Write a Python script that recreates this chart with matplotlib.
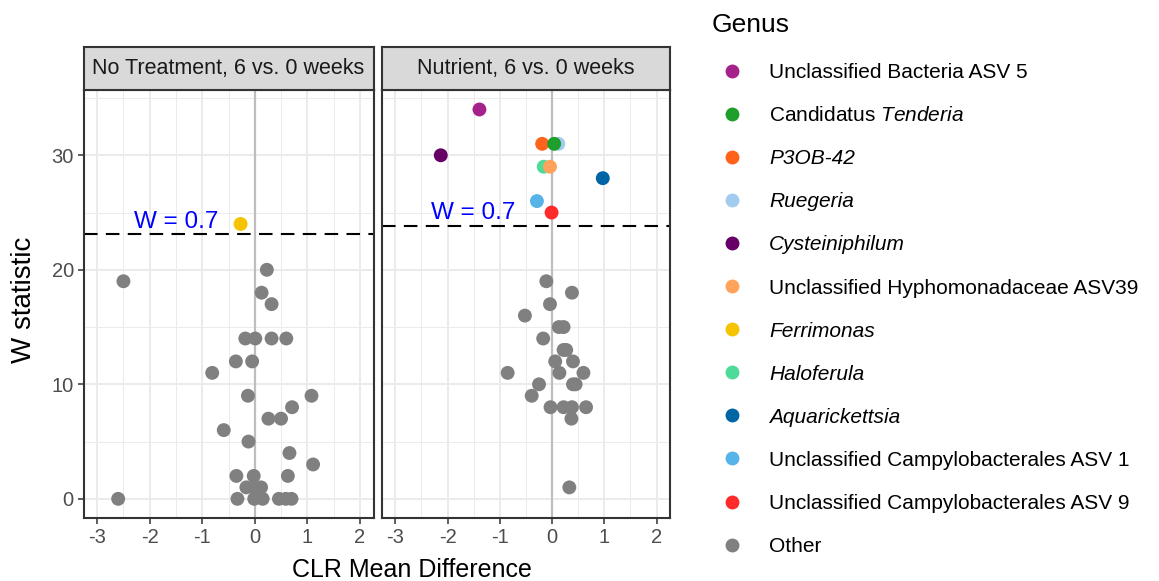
import numpy as np
import matplotlib
matplotlib.use('Agg')
import matplotlib.pyplot as plt
from matplotlib.lines import Line2D
from matplotlib.ticker import MultipleLocator

plt.rcParams['font.family'] = ['Liberation Sans', 'DejaVu Sans']
plt.rcParams['mathtext.fontset'] = 'custom'
plt.rcParams['mathtext.rm'] = 'Liberation Sans'
plt.rcParams['mathtext.it'] = 'Liberation Sans:italic'
plt.rcParams['axes.unicode_minus'] = False

# legend order / colours
genus_names = [
    "Unclassified Bacteria ASV 5", "Candidatus Tenderia", "P3OB-42", "Ruegeria",
    "Cysteiniphilum", "Unclassified Hyphomonadaceae ASV39", "Ferrimonas",
    "Haloferula", "Aquarickettsia", "Unclassified Campylobacterales ASV 1",
    "Unclassified Campylobacterales ASV 9", "Other",
]
genus_labels = [
    "Unclassified Bacteria ASV 5", r"Candidatus $\mathit{Tenderia}$", "P3OB-42", "Ruegeria",
    "Cysteiniphilum", "Unclassified Hyphomonadaceae ASV39", "Ferrimonas",
    "Haloferula", "Aquarickettsia", "Unclassified Campylobacterales ASV 1",
    "Unclassified Campylobacterales ASV 9", "Other",
]
genus_italic = [False, False, True, True, True, False, True, True, True, False, False, False]
genus_colors = [
    '#A6228B', '#1E9E2A', '#FF621A', '#A3CBF0', '#660066', '#FFA35C',
    '#F5C300', '#50DA9A', '#0065A4', '#56B4E9', '#FF2A2A', '#808080',
]

panel_titles = ["No Treatment, 6 vs. 0 weeks", "Nutrient, 6 vs. 0 weeks"]
w_cutoff = [23.1, 23.85]
w_label = "W = 0.7"

# No Treatment panel
nt_x = [-0.27,
        -2.5, 0.23, 0.13, 0.32, -0.18, 0.01, 0.32, 0.60, -0.36, -0.05, -0.81,
        -0.13, 1.08, 0.71, 0.26, 0.50, -0.59, -0.12, 0.66, 1.11, -0.35, -0.02,
        0.63, -0.16, 0.0, 0.12, -2.6, -0.33, -0.01, 0.15, 0.46, 0.59, 0.70]
nt_y = [24,
        19, 20, 18, 17, 14, 14, 14, 14, 12, 12, 11,
        9, 9, 8, 7, 7, 6, 5, 4, 3, 2, 2,
        2, 1, 1, 1, 0, 0, 0, 0, 0, 0, 0]
nt_genus = ["Ferrimonas"] + ["Other"] * 33

# Nutrient panel
nu_x = [-1.39, 0.04, -0.19, 0.12, -2.13, -0.04, -0.16, 0.97, -0.29, -0.01,
        -0.11, 0.38, -0.04, -0.52, 0.13, 0.22, -0.17, 0.22, 0.27, 0.06, 0.40,
        -0.85, 0.14, 0.60, -0.25, 0.40, 0.45, -0.39, -0.03, 0.22, 0.38, 0.65,
        0.37, 0.33]
nu_y = [34, 31, 31, 31, 30, 29, 29, 28, 26, 25,
        19, 18, 17, 16, 15, 15, 14, 13, 13, 12, 12,
        11, 11, 11, 10, 10, 10, 9, 8, 8, 8, 8,
        7, 1]
nu_genus = ["Unclassified Bacteria ASV 5", "Candidatus Tenderia", "P3OB-42", "Ruegeria",
            "Cysteiniphilum", "Unclassified Hyphomonadaceae ASV39", "Haloferula",
            "Aquarickettsia", "Unclassified Campylobacterales ASV 1",
            "Unclassified Campylobacterales ASV 9"] + ["Other"] * 24

panels = [(nt_x, nt_y, nt_genus), (nu_x, nu_y, nu_genus)]

W, H = 1159, 581
fig = plt.figure(figsize=(W / 100, H / 100), dpi=100)

def fx(px):
    return px / W

def fy(py):
    return 1 - py / H

ax_left = [83.5, 381.7]
ax_width = [290.0, 288.5]
top, bottom = 90.0, 518.3

for i, (xs, ys, gs) in enumerate(panels):
    ax = fig.add_axes([fx(ax_left[i]), fy(bottom), fx(ax_width[i]), (bottom - top) / H])
    ax.set_xlim(-3.26, 2.26)
    ax.set_ylim(-1.7, 35.7)
    ax.xaxis.set_major_locator(MultipleLocator(1))
    ax.xaxis.set_minor_locator(MultipleLocator(0.5))
    ax.yaxis.set_major_locator(MultipleLocator(10))
    ax.yaxis.set_minor_locator(MultipleLocator(5))
    ax.grid(True, which='major', color='#EBEBEB', lw=1.4, zorder=0)
    ax.grid(True, which='minor', color='#EBEBEB', lw=0.7, zorder=0)
    ax.set_axisbelow(True)
    for s in ax.spines.values():
        s.set_color('#333333')
        s.set_linewidth(1.5)
    ax.tick_params(which='major', length=4, width=1.1, color='#333333',
                   labelsize=14.5, labelcolor='#4D4D4D', pad=3)
    ax.tick_params(which='minor', length=0)
    if i > 0:
        ax.tick_params(axis='y', which='both', left=False, labelleft=False)

    ax.axvline(0, color='#BEBEBE', lw=1.6, zorder=1)
    ax.axhline(w_cutoff[i], color='black', lw=1.5, ls=(0, (6.5, 4)), zorder=2)
    ax.text(-1.5, w_cutoff[i] + 0.55, w_label, color='#0000FF', fontsize=17.5,
            ha='center', va='baseline', zorder=3)

    xs = np.array(xs)
    ys = np.array(ys)
    gs = np.array(gs)
    # draw in reverse legend order so Other sits underneath
    for g, c in reversed(list(zip(genus_names, genus_colors))):
        m = gs == g
        if m.any():
            ax.scatter(xs[m], ys[m], s=100, color=c, edgecolors='none', zorder=4)

    strip = fig.add_axes([fx(ax_left[i]), fy(top), fx(ax_width[i]), 43.0 / H])
    strip.set_facecolor('#D9D9D9')
    strip.set_xticks([])
    strip.set_yticks([])
    for s in strip.spines.values():
        s.set_color('#333333')
        s.set_linewidth(1.5)
    strip.text(0.5, 0.5, panel_titles[i], ha='center', va='center',
               fontsize=15.5, color='#1A1A1A', transform=strip.transAxes)

fig.text(fx(24), fy(300), "W statistic", rotation=90, ha='center', va='center',
         fontsize=20, color='black')
fig.text(fx(411.7), fy(577.3), "CLR Mean Difference", ha='center', va='baseline',
         fontsize=18, color='black')

# legend
fig.text(fx(712), fy(32.3), "Genus", ha='left', va='baseline', fontsize=19)
handles = [Line2D([], [], marker='o', ls='', markersize=10, markerfacecolor=c,
                  markeredgecolor='none') for c in genus_colors]
leg = fig.legend(handles, genus_labels, loc='upper left',
                 bbox_to_anchor=(fx(721.9), fy(63.2)), frameon=False,
                 fontsize=15, handlelength=1.0, handletextpad=1.26,
                 labelspacing=1.155, borderpad=0, borderaxespad=0)
for t, it in zip(leg.get_texts(), genus_italic):
    if it:
        t.set_fontstyle('italic')

fig.savefig('out.png', dpi=100)
